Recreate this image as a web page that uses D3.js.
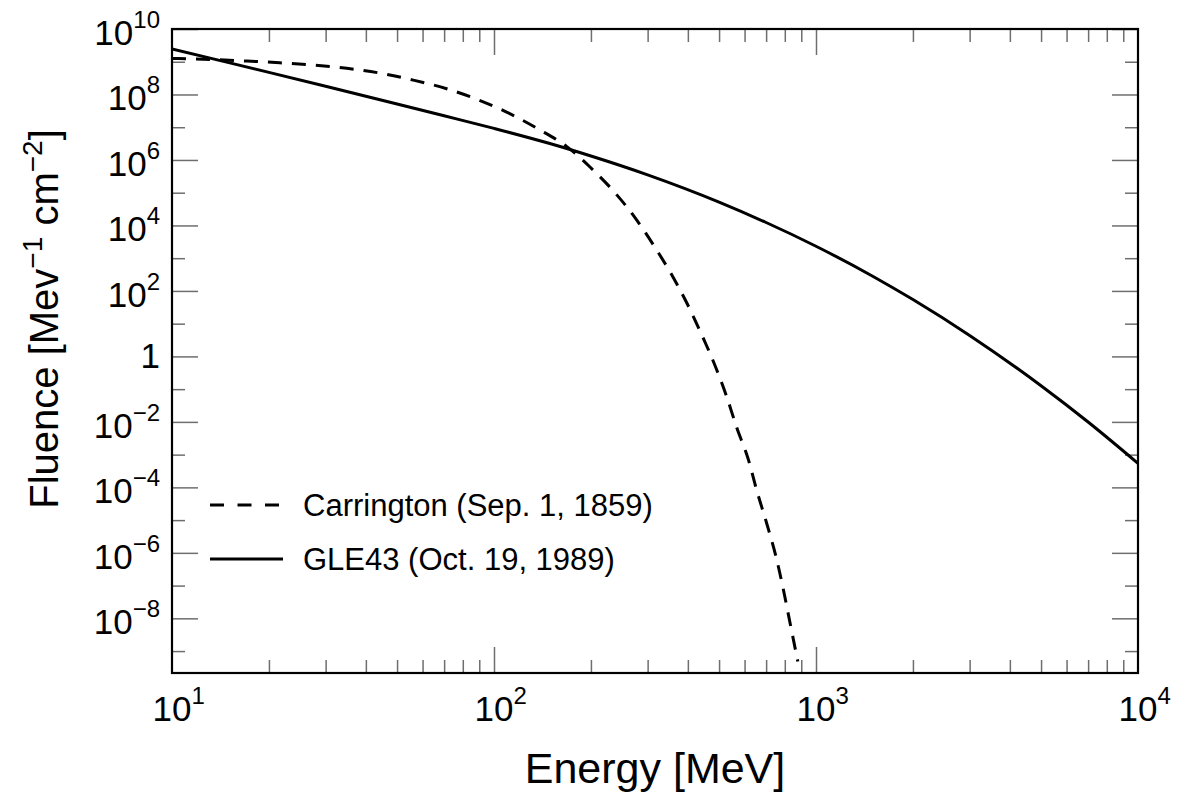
<!DOCTYPE html>
<html>
<head>
<meta charset="utf-8">
<script src="https://cdn.jsdelivr.net/npm/d3@7"></script>
<style>
  body { margin: 0; background: #fff; }
  text { font-family: "Liberation Sans", Arial, Helvetica, sans-serif; fill: #000; }
</style>
</head>
<body>
<div id="chart"></div>
<script>
// Carrington event (Sep. 1, 1859)
var carringtonEnergy = [10, 13.4, 17.1, 21.6, 27.5, 34.9, 44.3, 56.1, 71.3, 88.3, 109, 137, 168, 199, 235,
  274, 313, 356, 396, 442, 486, 528, 567, 617, 654, 703, 755, 793, 831, 878];
var carringtonFluence = [1.26e9, 1.17e9, 1.05e9, 9.3e8, 7.9e8, 6.3e8, 4.5e8, 2.75e8, 1.5e8, 7.2e7, 2.95e7,
  8.9e6, 2.6e6, 6.0e5, 1.12e5, 1.74e4, 2.5e3, 316, 45, 4.5, 0.52, 0.059, 6.8e-3, 6.9e-4, 8.3e-5,
  7.9e-6, 6.3e-7, 7.1e-8, 7.1e-9, 4.8e-10];

// GLE43 (Oct. 19, 1989)
var gleEnergy = [10, 15, 20, 30, 50, 70, 100, 150, 200, 300, 500, 700, 1000, 1500, 2000, 3000, 5000, 7000, 10000];
var gleFluence = [2.45e9, 9.4e8, 4.74e8, 1.79e8, 5.14e7, 2.24e7, 9.2e6, 3.12e6, 1.32e6, 3.51e5, 5.16e4,
  1.23e4, 2.32e3, 282, 54.5, 4.38, 0.127, 9.9e-3, 5.4e-4];

var legendLabels = ["Carrington (Sep. 1, 1859)", "GLE43 (Oct. 19, 1989)"];

// ticks
var xLabelExp = [1, 2, 3, 4];
var xMajor = [100, 1000];
var xMinor = [20, 30, 40, 50, 60, 70, 80, 90, 200, 300, 400, 500, 600, 700, 800, 900,
  2000, 3000, 4000, 5000, 6000, 7000, 8000, 9000];
var yLabelExp = [10, 8, 6, 4, 2, 0, -2, -4, -6, -8];
var yMinorExp = [9, 7, 5, 3, 1, -1, -3, -5, -7, -9];

var margin = {top: 29, right: 47, bottom: 122, left: 172};
var W = 1185, H = 795;
var width = W - margin.left - margin.right;
var height = H - margin.top - margin.bottom;

var svg = d3.select("#chart").append("svg")
  .attr("width", W)
  .attr("height", H)
  .style("background", "#fff");

var g = svg.append("g")
  .attr("transform", "translate(" + margin.left + "," + margin.top + ")");

var x = d3.scaleLog().domain([10, 10000]).range([0, width]);
var y = d3.scaleLog().domain([2.14e-10, 1e10]).range([height, 0]);

var tickColor = "#6e6e6e";

function drawAxis(axis, tx, ty) {
  var a = g.append("g")
    .attr("transform", "translate(" + tx + "," + ty + ")")
    .call(axis);
  a.select(".domain").remove();
  a.selectAll("line").attr("stroke", tickColor).attr("stroke-width", 1.5);
  a.selectAll("text").remove();
}

var yMajor = yLabelExp.map(function(e) { return Math.pow(10, e); });
var yMinor = yMinorExp.map(function(e) { return Math.pow(10, e); });

// ticks on all four sides, pointing inward
drawAxis(d3.axisBottom(x).tickValues(xMinor).tickSize(-13), 0, height);
drawAxis(d3.axisBottom(x).tickValues(xMajor).tickSize(-26), 0, height);
drawAxis(d3.axisTop(x).tickValues(xMinor).tickSize(-13), 0, 0);
drawAxis(d3.axisTop(x).tickValues(xMajor).tickSize(-26), 0, 0);
drawAxis(d3.axisLeft(y).tickValues(yMinor).tickSize(-13), 0, 0);
drawAxis(d3.axisLeft(y).tickValues(yMajor).tickSize(-26), 0, 0);
drawAxis(d3.axisRight(y).tickValues(yMinor).tickSize(-13), width, 0);
drawAxis(d3.axisRight(y).tickValues(yMajor).tickSize(-26), width, 0);

// curves
svg.append("defs").append("clipPath").attr("id", "clip")
  .append("rect").attr("width", width).attr("height", height);

var line = d3.line()
  .x(function(d) { return x(d[0]); })
  .y(function(d) { return y(d[1]); })
  .curve(d3.curveMonotoneX);

var carrington = carringtonEnergy.map(function(e, i) { return [e, carringtonFluence[i]]; });
var gle = gleEnergy.map(function(e, i) { return [e, gleFluence[i]]; });

g.append("path")
  .datum(carrington)
  .attr("clip-path", "url(#clip)")
  .attr("fill", "none")
  .attr("stroke", "#000")
  .attr("stroke-width", 3)
  .attr("stroke-dasharray", "14,10")
  .attr("d", line);

g.append("path")
  .datum(gle)
  .attr("clip-path", "url(#clip)")
  .attr("fill", "none")
  .attr("stroke", "#000")
  .attr("stroke-width", 3)
  .attr("d", line);

// frame
g.append("rect")
  .attr("width", width)
  .attr("height", height)
  .attr("fill", "none")
  .attr("stroke", "#000")
  .attr("stroke-width", 2.2);

// x tick labels: "10" centred on the tick, exponent hanging to the right
xLabelExp.forEach(function(e) {
  var t = g.append("text")
    .attr("y", height + 48)
    .style("font-size", "35px");
  var base = t.append("tspan").text("10");
  t.append("tspan")
    .attr("dy", -17)
    .style("font-size", "24px")
    .text(e);
  var half = base.node().getComputedTextLength() / 2;
  t.attr("x", x(Math.pow(10, e)) - half);
});

// y tick labels
yLabelExp.forEach(function(e) {
  var t = g.append("text")
    .attr("x", -12)
    .attr("y", y(Math.pow(10, e)) + 16)
    .attr("text-anchor", "end")
    .style("font-size", "35px");
  if (e === 0) {
    t.attr("y", y(1) + 12).text("1");
  } else {
    t.append("tspan").text("10");
    t.append("tspan")
      .attr("dy", -17)
      .style("font-size", "24px")
      .text(e < 0 ? "\u2212" + (-e) : e);
  }
});

// axis titles
svg.append("text")
  .attr("x", margin.left + width / 2)
  .attr("y", 783)
  .attr("text-anchor", "middle")
  .style("font-size", "43px")
  .text("Energy [MeV]");

var yt = svg.append("text")
  .attr("transform", "translate(58,319) rotate(-90)")
  .attr("text-anchor", "middle")
  .style("font-size", "40px");
yt.append("tspan").text("Fluence [Mev");
yt.append("tspan").attr("dy", -16).style("font-size", "28px").text("\u22121");
yt.append("tspan").attr("dy", 16).text(" cm");
yt.append("tspan").attr("dy", -16).style("font-size", "28px").text("\u22122");
yt.append("tspan").attr("dy", 16).text("]");

// legend
var legend = svg.append("g");
legendLabels.forEach(function(label, i) {
  var ly = 505 + i * 54;
  legend.append("line")
    .attr("x1", 210).attr("x2", 283)
    .attr("y1", ly).attr("y2", ly)
    .attr("stroke", "#000")
    .attr("stroke-width", 3)
    .attr("stroke-dasharray", i === 0 ? "14,13.5" : null);
  legend.append("text")
    .attr("x", 303)
    .attr("y", ly + 11)
    .style("font-size", "31px")
    .text(label);
});
</script>
</body>
</html>
